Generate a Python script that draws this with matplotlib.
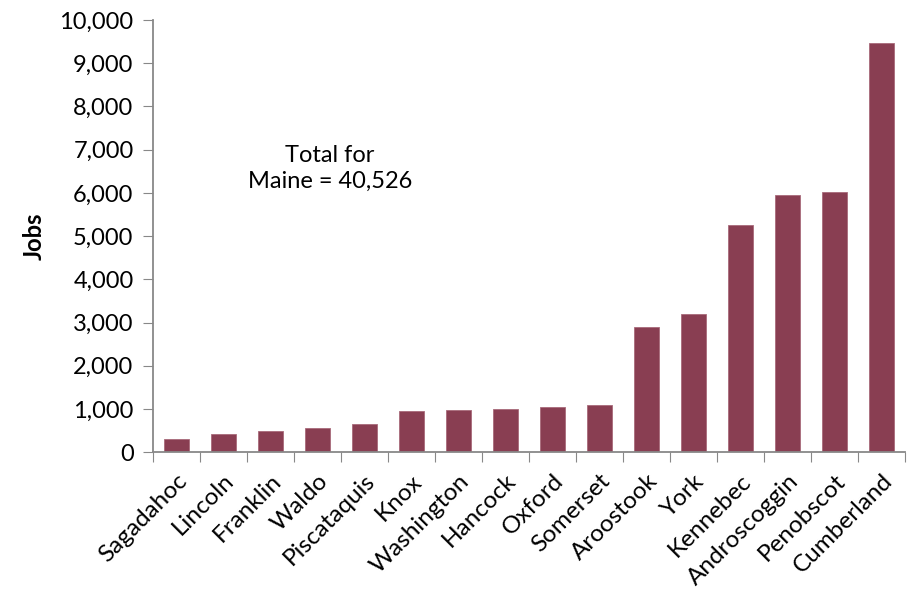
import numpy as np
import matplotlib.pyplot as plt
from matplotlib.ticker import FuncFormatter

# jobs by county
counties = ['Sagadahoc', 'Lincoln', 'Franklin', 'Waldo', 'Piscataquis', 'Knox',
            'Washington', 'Hancock', 'Oxford', 'Somerset', 'Aroostook', 'York',
            'Kennebec', 'Androscoggin', 'Penobscot', 'Cumberland']
jobs = [310, 430, 500, 550, 660, 960, 970, 990, 1040, 1100,
        2890, 3200, 5250, 5940, 6020, 9470]
total_label = 'Total for\nMaine = 40,526'

plt.rcParams['font.family'] = ['Lato', 'DejaVu Sans']

fig = plt.figure(figsize=(9.16, 5.91), dpi=100)
ax = fig.add_axes([0.167, 0.235, 0.821, 0.731])

x = np.arange(len(counties))
ax.bar(x, jobs, width=0.53, color='#893E52', edgecolor='#A86A7A', linewidth=0.6)

ax.set_xlim(-0.5, len(counties) - 0.5)
ax.set_ylim(0, 10000)
ax.set_yticks(np.arange(0, 10001, 1000))
ax.yaxis.set_major_formatter(FuncFormatter(lambda v, p: f'{int(v):,}'))

# x ticks sit between categories, labels centred under bars
ax.set_xticks(np.arange(-0.5, len(counties), 1))
ax.set_xticklabels([])
ax.set_xticks(x, minor=True)
ax.set_xticklabels(counties, minor=True, rotation=45, ha='right',
                   rotation_mode='anchor', fontsize=17.5)
ax.tick_params(axis='x', which='minor', length=0, pad=13)
ax.tick_params(axis='x', which='major', length=7, color='#888888', direction='out')
ax.tick_params(axis='y', length=7, color='#888888', labelsize=17, pad=7)

for s in ['top', 'right']:
    ax.spines[s].set_visible(False)
for s in ['left', 'bottom']:
    ax.spines[s].set_color('#888888')
    ax.spines[s].set_linewidth(1.3)

ax.set_ylabel('Jobs', fontsize=17, fontweight='bold', labelpad=10)
ax.text(3.27, 6570, total_label, ha='center', va='center', fontsize=17,
        linespacing=1.25)

fig.savefig('out.png', dpi=100)
